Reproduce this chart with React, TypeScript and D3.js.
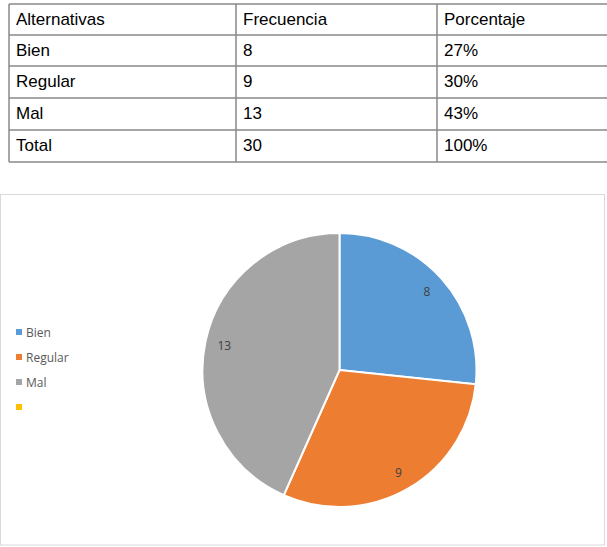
import * as React from 'react';
import * as d3 from 'd3';

// table data
const headers = ['Alternativas', 'Frecuencia', 'Porcentaje'];
const categories = ['Bien', 'Regular', 'Mal'];
const frecuencia = [8, 9, 13];
const porcentaje = ['27%', '30%', '43%'];
const totalRow = ['Total', '30', '100%'];

// pie legend (4th entry is an empty series)
const legendLabels = ['Bien', 'Regular', 'Mal', ''];
const colors = ['#5B9BD5', '#ED7D31', '#A5A5A5', '#FFC000'];

export default function App() {
  const width = 607;
  const height = 547;

  // table geometry
  const colX = [9, 236, 437, 640];
  const rowY = [4, 35, 66, 98, 130, 162];
  const rows: string[][] = [
    headers,
    ...categories.map((c, i) => [c, String(frecuencia[i]), porcentaje[i]]),
    totalRow,
  ];

  // pie
  const cx = 339.5;
  const cy = 370;
  const r = 137;
  const pie = d3
    .pie<number>()
    .sort(null)
    .value((d) => d)
    .startAngle(0)
    .endAngle(2 * Math.PI);
  const arcs = pie(frecuencia);
  const arc = d3.arc<d3.PieArcDatum<number>>().innerRadius(0).outerRadius(r);
  const labelArc = d3
    .arc<d3.PieArcDatum<number>>()
    .innerRadius(r * 0.86)
    .outerRadius(r * 0.86);

  const legendY = d3
    .scalePoint<number>()
    .domain(legendLabels.map((_, i) => i))
    .range([332, 407]);

  return (
    <svg
      width={width}
      height={height}
      style={{ position: 'absolute', left: 0, top: 0, background: '#fff' }}
    >
      {/* table */}
      <g fontFamily="'Liberation Sans', Arial, sans-serif" fontSize={17} fill="#000">
        {rowY.map((y, i) => (
          <line key={'h' + i} x1={colX[0]} x2={colX[3]} y1={y} y2={y} stroke="#888" strokeWidth={1.5} />
        ))}
        {colX.map((x, i) => (
          <line key={'v' + i} x1={x} x2={x} y1={rowY[0]} y2={rowY[rowY.length - 1]} stroke="#888" strokeWidth={1.5} />
        ))}
        {rows.map((row, ri) =>
          row.map((cell, ci) => (
            <text key={ri + '-' + ci} x={colX[ci] + 7} y={rowY[ri] + 21}>
              {cell}
            </text>
          ))
        )}
      </g>

      {/* chart frame */}
      <rect x={0.5} y={194.5} width={604} height={350.5} fill="none" stroke="#d9d9d9" strokeWidth={1} />

      {/* pie */}
      <g transform={`translate(${cx},${cy})`}>
        {arcs.map((a, i) => (
          <path key={i} d={arc(a) || ''} fill={colors[i]} stroke="#fff" strokeWidth={2} />
        ))}
        {arcs.map((a, i) => {
          const [lx, ly] = labelArc.centroid(a);
          return (
            <text
              key={'l' + i}
              x={lx}
              y={ly}
              textAnchor="middle"
              dominantBaseline="central"
              fontFamily="'Open Sans', 'Noto Sans', sans-serif"
              fontSize={12}
              fill="#404040"
            >
              {a.data}
            </text>
          );
        })}
      </g>

      {/* legend */}
      <g fontFamily="'Open Sans', 'Noto Sans', sans-serif" fontSize={12} fill="#595959">
        {legendLabels.map((l, i) => (
          <g key={i} transform={`translate(16,${legendY(i)})`}>
            <rect x={0} y={-3} width={6} height={6} fill={colors[i]} />
            <text x={10} y={0} dominantBaseline="central">
              {l}
            </text>
          </g>
        ))}
      </g>
    </svg>
  );
}
